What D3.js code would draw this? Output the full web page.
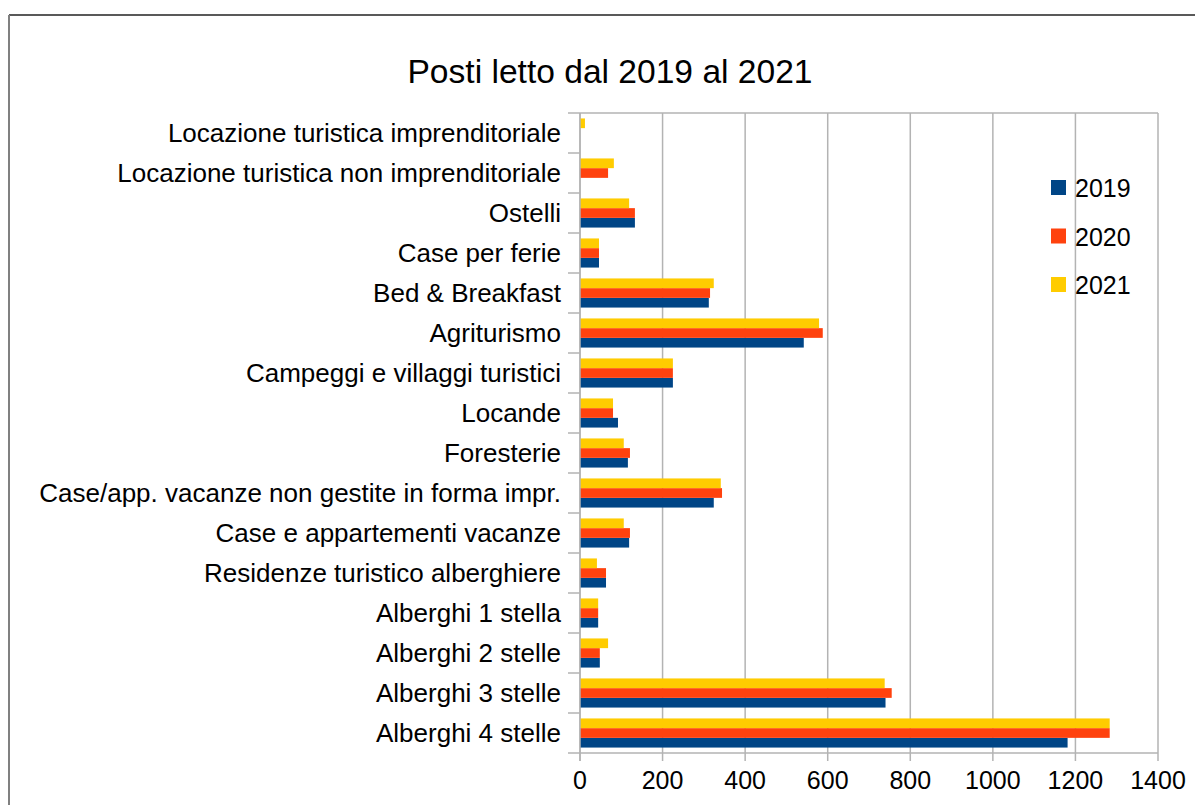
<!DOCTYPE html>
<html>
<head>
<meta charset="utf-8">
<script src="https://cdn.jsdelivr.net/npm/d3@7"></script>
<style>
body { margin: 0; background: #fff; }
text { font-family: "Liberation Sans", Arial, sans-serif; fill: #000; }
</style>
</head>
<body>
<script>
// dati
var categorie = ["Locazione turistica imprenditoriale", "Locazione turistica non imprenditoriale", "Ostelli",
  "Case per ferie", "Bed & Breakfast", "Agriturismo ", "Campeggi e villaggi turistici", "Locande", "Foresterie",
  "Case/app. vacanze non gestite in forma impr.", "Case e appartementi vacanze", "Residenze turistico alberghiere",
  "Alberghi 1 stella", "Alberghi 2 stelle", "Alberghi 3 stelle", "Alberghi 4 stelle"]
var anni = ["2019", "2020", "2021"]
var valori2019 = [0, 0, 133, 46, 312, 542, 225, 92, 116, 324, 119, 63, 44, 48, 740, 1181]
var valori2020 = [0, 68, 133, 46, 315, 588, 225, 80, 121, 344, 121, 63, 44, 48, 755, 1283]
var valori2021 = [12, 82, 119, 46, 324, 579, 225, 80, 106, 341, 106, 41, 44, 68, 738, 1283]
var tickX = [0, 200, 400, 600, 800, 1000, 1200, 1400]
var colori = {"2019": "#004586", "2020": "#ff420e", "2021": "#ffcc00"}

var serie = {"2019": valori2019, "2020": valori2020, "2021": valori2021}
var righe = categorie.map(function(c, i) {
  return {cat: c, valori: anni.map(function(a) { return {anno: a, v: serie[a][i]} })}
})

var svg = d3.select("body").append("svg")
  .attr("width", 1195)
  .attr("height", 805)

// cornice
svg.append("line").attr("x1", 9).attr("x2", 1195).attr("y1", 15).attr("y2", 15)
  .attr("stroke", "#222").attr("stroke-width", 1.5)
svg.append("line").attr("x1", 9).attr("x2", 9).attr("y1", 15).attr("y2", 805)
  .attr("stroke", "#808080").attr("stroke-width", 2)

var sx = 580, dx = 1158, alto = 113, basso = 753

var x = d3.scaleLinear().domain([0, 1400]).range([sx, dx])
var y = d3.scaleBand().domain(categorie).range([alto, basso]).padding(0)
var ySub = d3.scaleBand().domain(["2021", "2020", "2019"]).range([0, y.bandwidth()])
  .paddingInner(0).paddingOuter(0.56)

svg.append("text")
  .attr("x", 610).attr("y", 71)
  .attr("text-anchor", "middle")
  .attr("dominant-baseline", "central")
  .style("font-size", "33.6px")
  .text("Posti letto dal 2019 al 2021")

// griglia
var griglia = svg.append("g")
tickX.forEach(function(t) {
  griglia.append("line")
    .attr("x1", x(t)).attr("x2", x(t))
    .attr("y1", alto).attr("y2", basso + 8)
    .attr("stroke", "#b3b3b3").attr("stroke-width", 1.5)
})
var bordi = categorie.map(function(c) { return y(c) }).concat([basso])
bordi.forEach(function(b) {
  griglia.append("line")
    .attr("x1", sx - 12).attr("x2", b === alto || b === basso ? dx : sx)
    .attr("y1", b).attr("y2", b)
    .attr("stroke", "#b3b3b3").attr("stroke-width", 1.5)
})

// barre
var gruppi = svg.append("g").selectAll("g").data(righe).enter().append("g")
  .attr("transform", function(d) { return "translate(0," + y(d.cat) + ")" })
gruppi.selectAll("rect").data(function(d) { return d.valori }).enter().append("rect")
  .attr("x", x(0))
  .attr("y", function(d) { return ySub(d.anno) })
  .attr("width", function(d) { return x(d.v) - x(0) })
  .attr("height", ySub.bandwidth())
  .attr("fill", function(d) { return colori[d.anno] })

svg.append("line").attr("x1", sx).attr("x2", sx).attr("y1", alto).attr("y2", basso + 8)
  .attr("stroke", "#b3b3b3").attr("stroke-width", 1.5)

// etichette categorie
svg.append("g").selectAll("text").data(categorie).enter().append("text")
  .attr("x", 561)
  .attr("y", function(d) { return y(d) + y.bandwidth() / 2 })
  .attr("text-anchor", "end")
  .attr("dominant-baseline", "central")
  .style("font-size", "26px")
  .text(function(d) { return d })

// etichette asse x
svg.append("g").selectAll("text").data(tickX).enter().append("text")
  .attr("x", function(d) { return x(d) })
  .attr("y", 780)
  .attr("text-anchor", "middle")
  .attr("dominant-baseline", "central")
  .style("font-size", "25px")
  .text(function(d) { return d })

// legenda
var legenda = svg.append("g").selectAll("g").data(anni).enter().append("g")
  .attr("transform", function(d, i) { return "translate(1051," + (180 + i * 48.5) + ")" })
legenda.append("rect").attr("width", 15).attr("height", 15)
  .attr("fill", function(d) { return colori[d] })
legenda.append("text").attr("x", 24).attr("y", 8)
  .attr("dominant-baseline", "central")
  .style("font-size", "25px")
  .text(function(d) { return d })
</script>
</body>
</html>
